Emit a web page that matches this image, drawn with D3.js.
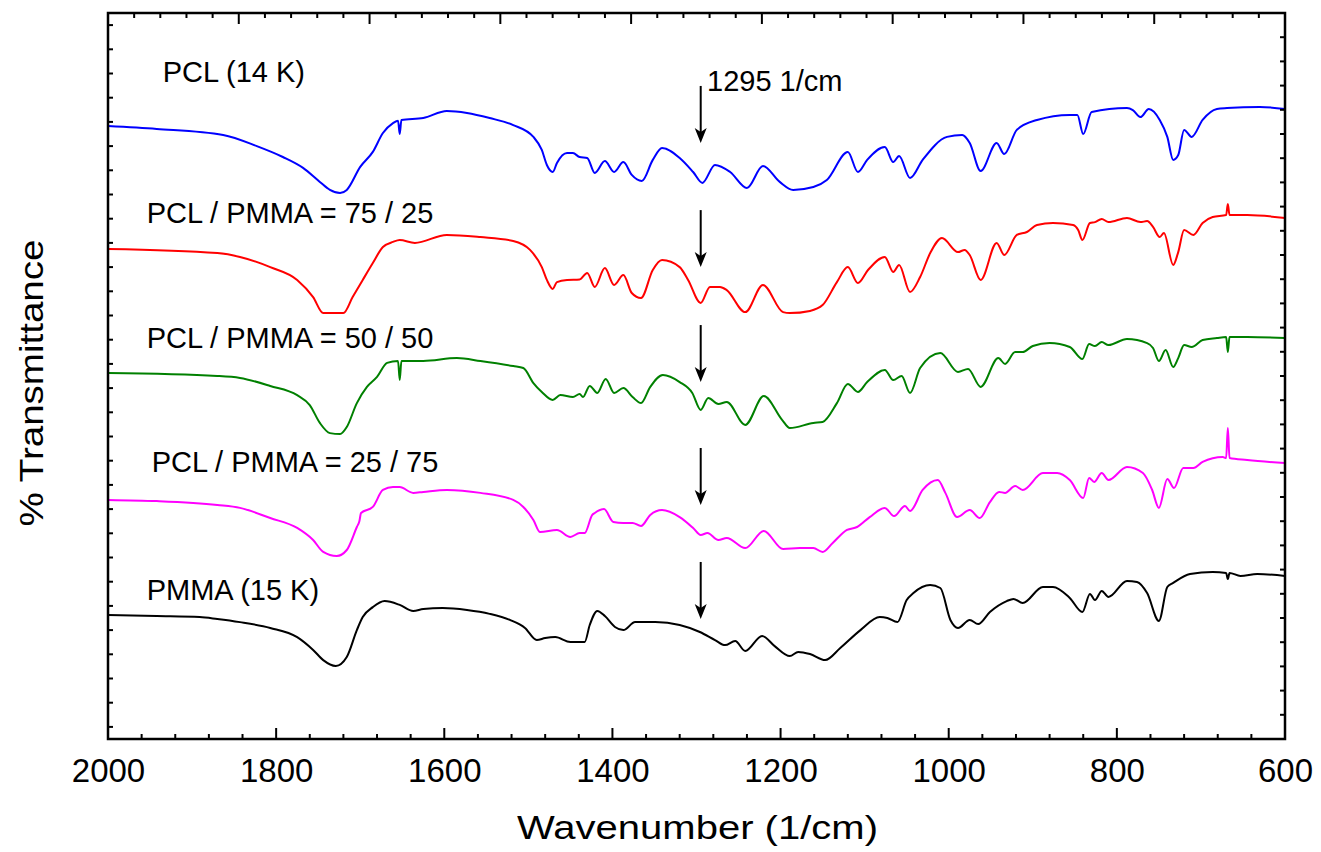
<!DOCTYPE html>
<html>
<head>
<meta charset="utf-8">
<script src="https://cdn.jsdelivr.net/npm/d3@7/dist/d3.min.js"></script>
<style>
  html, body { margin: 0; padding: 0; background: #fff; }
  svg { display: block; font-family: "Liberation Sans", Arial, Helvetica, sans-serif; }
</style>
</head>
<body>
<svg id="chart" width="1321" height="852"></svg>
<script>
// FTIR spectra of PCL / PMMA blends, stacked with vertical offsets.
// Each series: [wavenumber (1/cm), offset transmittance (arb.)]
const pcl14k = [[2000,25.33],[1942,25.21],[1863,24.96],[1823,24.50],[1792,24.05],[1768,23.60],[1748,23.02],[1736,22.69],[1724,22.56],[1716,22.69],[1700,23.64],[1685,24.26],[1673,25.04],[1661,25.45],[1655,25.55],[1653,25.0],[1651,25.58],[1625,25.66],[1597,25.95],[1573,25.87],[1546,25.66],[1518,25.37],[1494,24.88],[1484,24.34],[1478,23.72],[1471,23.43],[1466,23.80],[1454,24.21],[1447,24.21],[1439,24.05],[1430,24.01],[1421,23.39],[1409,23.88],[1398,23.43],[1387,23.84],[1377,23.31],[1365,23.06],[1352,23.93],[1341,24.42],[1320,24.01],[1304,23.43],[1293,22.98],[1278,23.72],[1260,23.43],[1240,22.77],[1221,23.68],[1201,23.02],[1185,22.69],[1161,22.81],[1145,23.10],[1120,24.26],[1108,23.43],[1097,23.93],[1076,24.46],[1066,23.84],[1059,24.09],[1046,23.18],[1031,23.93],[1002,24.88],[984,24.96],[975,24.63],[962,23.47],[943,24.63],[934,24.17],[919,25.17],[895,25.58],[856,25.79],[847,25.79],[840,25.0],[830,25.91],[788,26.07],[781,25.99],[772,25.70],[762,26.03],[749,25.58],[740,24.88],[733,23.93],[727,24.13],[720,25.17],[711,24.88],[698,25.58],[681,26.03],[669,26.07],[630,26.12],[600,26.03]];

const blend7525 = [[2000,20.25],[1870,20.08],[1843,19.92],[1807,19.50],[1775,18.97],[1756,18.26],[1744,17.60],[1720,17.60],[1709,18.26],[1697,18.97],[1685,19.67],[1673,20.33],[1661,20.54],[1653,20.62],[1635,20.50],[1597,20.83],[1557,20.74],[1518,20.58],[1498,20.21],[1484,19.50],[1478,18.97],[1471,18.60],[1466,18.88],[1454,18.97],[1439,18.99],[1430,19.26],[1421,18.68],[1409,19.46],[1398,18.76],[1387,19.17],[1377,18.43],[1366,18.22],[1352,19.38],[1341,19.79],[1320,19.50],[1310,18.97],[1295,18.02],[1284,18.68],[1272,18.68],[1264,18.55],[1242,17.64],[1221,18.76],[1197,17.64],[1189,17.60],[1165,17.69],[1150,17.93],[1133,18.88],[1120,19.50],[1108,18.84],[1096,19.38],[1076,19.92],[1066,19.30],[1059,19.59],[1046,18.47],[1034,19.09],[1022,20.08],[1008,20.70],[989,20.12],[981,20.21],[975,20.0],[962,18.97],[943,20.50],[934,20.0],[919,20.83],[907,20.95],[895,21.24],[876,21.32],[852,21.24],[846,21.03],[841,20.62],[832,21.32],[826,21.36],[818,21.49],[810,21.36],[788,21.53],[772,21.36],[764,21.40],[757,21.16],[749,20.74],[744,20.91],[733,19.59],[727,20.12],[720,21.03],[709,20.83],[698,21.32],[686,21.57],[670,21.65],[668,22.11],[666,21.65],[645,21.65],[600,21.53]];

const blend5050 = [[2000,15.12],[1870,15.0],[1843,14.92],[1807,14.59],[1775,14.21],[1760,13.80],[1748,13.06],[1736,12.64],[1724,12.60],[1716,12.89],[1704,13.88],[1692,14.55],[1680,14.96],[1668,15.54],[1655,15.62],[1653,14.83],[1651,15.62],[1625,15.62],[1585,15.74],[1557,15.62],[1518,15.41],[1506,15.33],[1494,14.71],[1484,14.34],[1471,14.01],[1462,14.21],[1447,14.13],[1439,14.26],[1435,14.13],[1427,14.59],[1418,14.30],[1408,14.88],[1398,14.30],[1387,14.50],[1376,14.13],[1366,13.88],[1355,14.55],[1340,15.04],[1320,14.75],[1305,14.30],[1295,13.60],[1286,14.09],[1274,13.84],[1264,13.93],[1242,12.98],[1220,14.17],[1198,13.18],[1189,12.85],[1161,13.06],[1150,13.10],[1133,13.88],[1120,14.67],[1108,14.34],[1097,14.75],[1076,15.25],[1066,14.83],[1056,15.0],[1046,14.30],[1034,15.33],[1010,15.95],[989,15.17],[977,15.29],[962,14.55],[941,15.74],[933,15.50],[921,15.99],[912,15.99],[900,16.24],[880,16.36],[856,16.20],[841,15.70],[833,16.32],[826,16.24],[818,16.40],[810,16.28],[788,16.53],[764,16.36],[757,16.16],[750,15.62],[742,16.07],[733,15.37],[727,15.74],[720,16.28],[711,16.20],[698,16.49],[681,16.57],[670,16.61],[668,15.99],[666,16.61],[645,16.61],[600,16.57]];

const blend2575 = [[2000,9.88],[1942,9.83],[1870,9.67],[1843,9.55],[1807,9.13],[1775,8.72],[1756,8.22],[1744,7.73],[1728,7.56],[1716,7.81],[1704,8.76],[1701,9.0],[1699,9.34],[1685,9.59],[1673,10.29],[1661,10.41],[1653,10.41],[1637,10.17],[1625,10.21],[1597,10.29],[1557,10.17],[1518,9.88],[1506,9.59],[1494,9.05],[1486,8.55],[1466,8.64],[1450,8.35],[1439,8.51],[1433,8.51],[1424,9.26],[1421,9.34],[1410,9.50],[1399,8.97],[1387,8.93],[1376,8.93],[1366,8.80],[1355,9.26],[1341,9.46],[1320,9.17],[1304,8.72],[1295,8.43],[1287,8.51],[1274,8.22],[1264,8.31],[1242,7.89],[1220,8.60],[1197,7.85],[1177,7.89],[1161,7.89],[1150,7.73],[1138,8.10],[1121,8.64],[1109,8.76],[1094,9.17],[1076,9.55],[1065,9.21],[1052,9.63],[1046,9.42],[1031,10.29],[1013,10.70],[1004,10.17],[990,9.17],[975,9.46],[963,9.13],[951,9.79],[940,10.21],[933,10.17],[921,10.45],[912,10.29],[888,10.99],[871,10.99],[856,10.70],[840,9.96],[833,10.79],[827,10.62],[818,10.99],[810,10.70],[788,11.24],[769,10.99],[758,10.29],[750,9.55],[740,10.74],[732,10.37],[721,11.20],[709,11.20],[698,11.45],[674,11.65],[670,11.61],[668,12.85],[666,11.61],[645,11.53],[600,11.40]];

const pmma15k = [[2000,5.12],[1942,5.08],[1891,5.04],[1870,4.96],[1843,4.83],[1807,4.59],[1775,4.21],[1756,3.68],[1744,3.26],[1729,3.02],[1716,3.39],[1704,4.50],[1697,5.04],[1685,5.45],[1671,5.70],[1653,5.54],[1637,5.29],[1625,5.37],[1602,5.41],[1573,5.33],[1546,5.17],[1522,4.92],[1504,4.59],[1490,4.09],[1480,4.17],[1468,4.21],[1450,4.01],[1433,4.01],[1427,4.71],[1418,5.29],[1409,5.08],[1397,4.63],[1387,4.50],[1373,4.83],[1349,4.83],[1320,4.71],[1296,4.42],[1278,4.09],[1266,3.88],[1254,4.05],[1242,3.64],[1222,4.26],[1207,3.84],[1189,3.43],[1179,3.60],[1165,3.51],[1147,3.26],[1129,3.76],[1105,4.50],[1082,5.04],[1073,5.0],[1061,4.83],[1050,5.74],[1042,6.03],[1022,6.36],[1010,6.24],[998,4.92],[989,4.59],[975,4.92],[965,4.75],[951,5.25],[931,5.70],[923,5.79],[912,5.62],[888,6.28],[876,6.28],[856,5.83],[841,5.25],[832,5.99],[826,5.74],[818,6.12],[810,5.87],[788,6.53],[776,6.49],[764,6.03],[750,4.88],[740,6.28],[733,6.45],[713,6.82],[686,6.90],[670,6.86],[668,6.61],[666,6.86],[653,6.74],[633,6.82],[600,6.74]];

const seriesNames = ["PCL (14 K)", "PCL / PMMA = 75 / 25", "PCL / PMMA = 50 / 50", "PCL / PMMA = 25 / 75", "PMMA (15 K)"];
const seriesColors = ["#0000ff", "#ff0000", "#008000", "#ff00ff", "#000000"];
// label anchor per series: [wavenumber, offset transmittance]
const labelAnchors = [[1935,27.15],[1954,21.32],[1954,16.16],[1948,11.03],[1954,5.74]];

const xTickLabels = [2000, 1800, 1600, 1400, 1200, 1000, 800, 600];
const markerWavenumber = 1295;
const markerText = "1295 1/cm";
const markerTextAnchor = [1287.5, 26.78];
// arrow tip level for each spectrum at the marked band
const arrowTips = [24.63, 19.50, 14.75, 9.67, 4.96];

const allSeries = [pcl14k, blend7525, blend5050, blend2575, pmma15k];

const svg = d3.select("#chart");
const margin = {left: 108, right: 1285, top: 13, bottom: 739};

const x = d3.scaleLinear().domain([2000, 600]).range([margin.left, margin.right]);
const y = d3.scaleLinear().domain([0, 30]).range([margin.bottom, margin.top]);
const xTop = d3.scaleLinear().domain([0, 45]).range([margin.left, margin.right]);

const g = svg.append("g");

// spectra
const line = d3.line()
  .x(d => x(d[0]))
  .y(d => y(d[1]))
  .curve(d3.curveMonotoneX);

allSeries.forEach((s, i) => {
  g.append("path")
    .datum(s)
    .attr("d", line)
    .attr("fill", "none")
    .attr("stroke", seriesColors[i])
    .attr("stroke-width", 2)
    .attr("stroke-linejoin", "round");
});

// ticks (all pointing inward)
const tickG = g.append("g").attr("stroke", "#000").attr("stroke-width", 2);
const bottomMinor = d3.range(1960, 600, -40);
bottomMinor.forEach(v => {
  const major = v % 200 === 0;
  const len = major ? 11 : 5;
  tickG.append("line").attr("x1", x(v)).attr("x2", x(v))
    .attr("y1", margin.bottom).attr("y2", margin.bottom - len);
});
d3.range(1, 45).forEach(v => {
  const len = v % 5 === 0 ? 11 : 5;
  tickG.append("line").attr("x1", xTop(v)).attr("x2", xTop(v))
    .attr("y1", margin.top).attr("y2", margin.top + len);
});
d3.range(0, 30).map(k => k + 0.5).forEach(v => {
  tickG.append("line").attr("x1", margin.left).attr("x2", margin.left + 5)
    .attr("y1", y(v)).attr("y2", y(v));
});
d3.range(1, 30).forEach(v => {
  tickG.append("line").attr("x1", margin.right).attr("x2", margin.right - 5)
    .attr("y1", y(v)).attr("y2", y(v));
});

// frame
g.append("rect")
  .attr("x", margin.left).attr("y", margin.top)
  .attr("width", margin.right - margin.left)
  .attr("height", margin.bottom - margin.top)
  .attr("fill", "none").attr("stroke", "#000").attr("stroke-width", 2.5);

// x tick labels
const xAxis = d3.axisBottom(x).tickValues(xTickLabels).tickSize(0).tickPadding(20).tickFormat(d3.format("d"));
const axG = g.append("g").attr("transform", `translate(0,${margin.bottom})`).call(xAxis);
axG.select(".domain").remove();
axG.selectAll("text").attr("font-size", 33).attr("fill", "#000")
  .attr("font-family", "'Liberation Sans', Arial, sans-serif");

// axis titles
g.append("text")
  .attr("x", (margin.left + margin.right) / 2 + 1).attr("y", 839)
  .attr("text-anchor", "middle").attr("font-size", 34)
  .attr("textLength", 361).attr("lengthAdjust", "spacingAndGlyphs")
  .text("Wavenumber (1/cm)");

g.append("text")
  .attr("transform", "translate(43,383) rotate(-90)")
  .attr("text-anchor", "middle").attr("font-size", 34)
  .attr("textLength", 287).attr("lengthAdjust", "spacingAndGlyphs")
  .text("% Transmittance");

// series labels
seriesNames.forEach((name, i) => {
  g.append("text")
    .attr("x", x(labelAnchors[i][0])).attr("y", y(labelAnchors[i][1]))
    .attr("font-size", 29).attr("fill", "#000")
    .text(name);
});

// band marker arrows
const arrowLen = 57;
arrowTips.forEach(t => {
  const ax = x(markerWavenumber), ay = y(t);
  g.append("line")
    .attr("x1", ax).attr("x2", ax)
    .attr("y1", ay - arrowLen).attr("y2", ay - 10)
    .attr("stroke", "#000").attr("stroke-width", 2);
  g.append("path")
    .attr("d", `M${ax},${ay} L${ax - 6},${ay - 15} L${ax},${ay - 11} L${ax + 6},${ay - 15} Z`)
    .attr("fill", "#000");
});

g.append("text")
  .attr("x", x(markerTextAnchor[0])).attr("y", y(markerTextAnchor[1]))
  .attr("font-size", 29).attr("fill", "#000")
  .text(markerText);
</script>
</body>
</html>
